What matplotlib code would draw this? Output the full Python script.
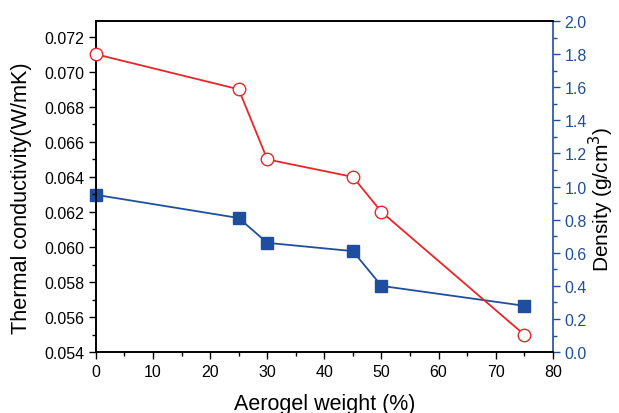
import matplotlib.pyplot as plt
from matplotlib.ticker import MultipleLocator

plt.rcParams['font.family'] = ['Liberation Sans', 'DejaVu Sans']

# aerogel loading (%)
weight = [0, 25, 30, 45, 50, 75]
conductivity = [0.071, 0.069, 0.065, 0.064, 0.062, 0.055]
density = [0.95, 0.81, 0.66, 0.61, 0.40, 0.28]

red = '#e8262a'
blue = '#1f4e9e'

fig = plt.figure(figsize=(6.19, 4.14), dpi=100)
ax = fig.add_axes([0.155, 0.147, 0.738, 0.800])
ax2 = ax.twinx()

ax.plot(weight, conductivity, color=red, lw=1.3, marker='o', ms=9,
        mfc='white', mec=red, mew=1.0, zorder=3, clip_on=False)
ax2.plot(weight, density, color=blue, lw=1.3, marker='s', ms=8,
         mfc=blue, mec=blue, zorder=3, clip_on=False)
ax.set_zorder(ax2.get_zorder() + 1)
ax.patch.set_visible(False)

ax.set_xlim(0, 80)
ax.set_ylim(0.054, 0.0729)
ax2.set_ylim(0, 2.0)

ax.xaxis.set_major_locator(MultipleLocator(10))
ax.xaxis.set_minor_locator(MultipleLocator(5))
ax.yaxis.set_major_locator(MultipleLocator(0.002))
ax.yaxis.set_minor_locator(MultipleLocator(0.001))
ax.yaxis.set_major_formatter(plt.FormatStrFormatter('%.3f'))
ax2.yaxis.set_major_locator(MultipleLocator(0.2))
ax2.yaxis.set_minor_locator(MultipleLocator(0.1))
ax2.yaxis.set_major_formatter(plt.FormatStrFormatter('%.1f'))

ax.tick_params(which='major', direction='out', length=5, width=1, labelsize=11.5)
ax.tick_params(which='minor', direction='out', length=3, width=1)
ax2.tick_params(which='major', direction='out', length=5, width=1, labelsize=11.5,
                colors=blue)
ax2.tick_params(which='minor', direction='out', length=3, width=1, colors=blue)

for s in ax2.spines.values():
    s.set_linewidth(1.2)
ax2.spines['right'].set_color(blue)
for s in ax.spines.values():
    s.set_linewidth(1.2)
ax.spines['right'].set_visible(False)

ax.set_xlabel('Aerogel weight (%)', fontsize=15.5, labelpad=10)
ax.set_ylabel('Thermal conductivity(W/mK)', fontsize=15.6)
ax.yaxis.set_label_coords(-0.140, 0.467)
ax2.set_ylabel('Density (g/cm$^3$)', fontsize=15)
ax2.yaxis.set_label_coords(1.075, 0.464)

fig.savefig('out.png', dpi=100)
